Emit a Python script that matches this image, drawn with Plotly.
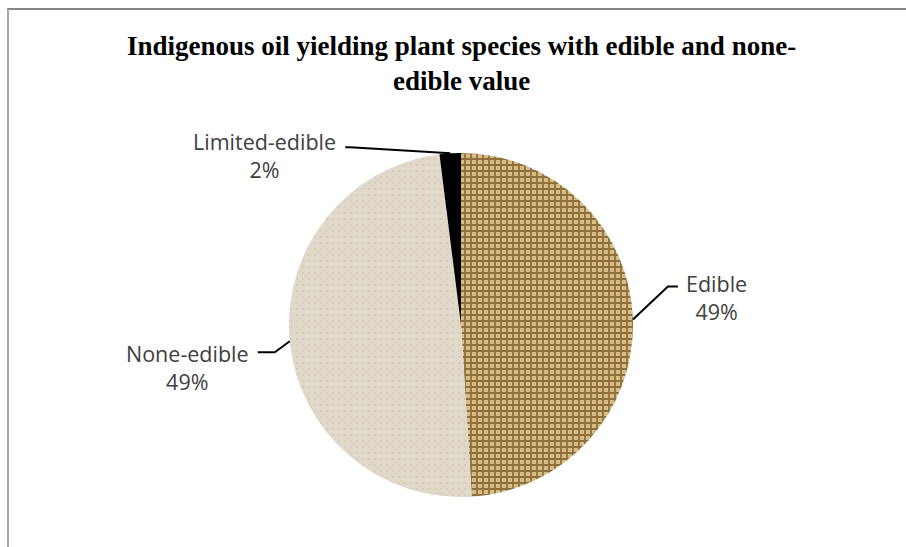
import math
import plotly.graph_objects as go

# ---- data ----
categories = ["Edible", "None-edible", "Limited-edible"]
values = [49, 49, 2]
title_text = "Indigenous oil yielding plant species with edible and none-<br>edible value"

# ---- layout constants (pixels) ----
W, H = 906, 547
CX, CY, R = 461, 325, 172

def px(x):
    return x / W

def py(y):
    return 1 - y / H

fig = go.Figure()
fig.add_trace(go.Pie(
    labels=categories,
    values=values,
    sort=False,
    direction="clockwise",
    rotation=0,
    textinfo="none",
    hoverinfo="label+percent",
    showlegend=False,
    domain=dict(x=[px(CX - R), px(CX + R)], y=[py(CY + R), py(CY - R)]),
    marker=dict(
        colors=["#cfb078", "#e0d8c9", "#000000"],
        line=dict(width=0),
        pattern=dict(
            shape=["+", ".", ""],
            fgcolor=["#8f6f3a", "#d3cab8", "#000000"],
            bgcolor=["#d8bc86", "#e0d8c9", "#000000"],
            size=[6, 6, 8],
            solidity=[0.5, 0.08, 0.3],
            fillmode="replace",
        ),
    ),
))

# leader-line styling offsets (pixels from slice edge midpoint)
offsets = {
    "Edible": dict(elbow=(35, -33), end=(45, -33), label=(84, -22)),
    "None-edible": dict(elbow=(-15, 11), end=(-32, 11), label=(-102, 26)),
    "Limited-edible": dict(elbow=(-100, -6), end=(-105, -6), label=(-186, 2)),
}

total = sum(values)
cum = 0
shapes = []
annotations = []
for cat, v in zip(categories, values):
    frac_mid = (cum + v / 2) / total
    cum += v
    ang = 2 * math.pi * frac_mid  # clockwise from 12 o'clock
    sx = CX + R * math.sin(ang)
    sy = CY - R * math.cos(ang)
    o = offsets[cat]
    ex, ey = sx + o["elbow"][0], sy + o["elbow"][1]
    tx, ty = sx + o["end"][0], sy + o["end"][1]
    path = f"M {px(sx)} {py(sy)} L {px(ex)} {py(ey)} L {px(tx)} {py(ty)}"
    shapes.append(dict(type="path", xref="paper", yref="paper", path=path,
                       line=dict(color="#000000", width=2)))
    pct = round(100 * v / total)
    lx, ly = sx + o["label"][0], sy + o["label"][1]
    annotations.append(dict(
        x=px(lx), y=py(ly), xref="paper", yref="paper",
        text=f"{cat}<br>{pct}%", showarrow=False,
        xanchor="center", yanchor="middle",
        font=dict(family="Open Sans", size=21.5, color="#404040"),
    ))

# title
annotations.append(dict(
    x=px(461), y=py(63), xref="paper", yref="paper",
    text=f"<b>{title_text}</b>", showarrow=False,
    xanchor="center", yanchor="middle",
    font=dict(family="Liberation Serif", size=27, color="#000000"),
))

# chart frame
shapes.append(dict(type="line", xref="paper", yref="paper",
                   x0=px(7), x1=px(906), y0=py(9), y1=py(9),
                   line=dict(color="#858585", width=2)))
shapes.append(dict(type="line", xref="paper", yref="paper",
                   x0=px(8), x1=px(8), y0=py(9), y1=py(547),
                   line=dict(color="#a8a8a8", width=2)))

fig.update_layout(
    width=W, height=H,
    margin=dict(l=0, r=0, t=0, b=0),
    paper_bgcolor="#ffffff",
    plot_bgcolor="#ffffff",
    shapes=shapes,
    annotations=annotations,
)

fig.write_html("out.html")
